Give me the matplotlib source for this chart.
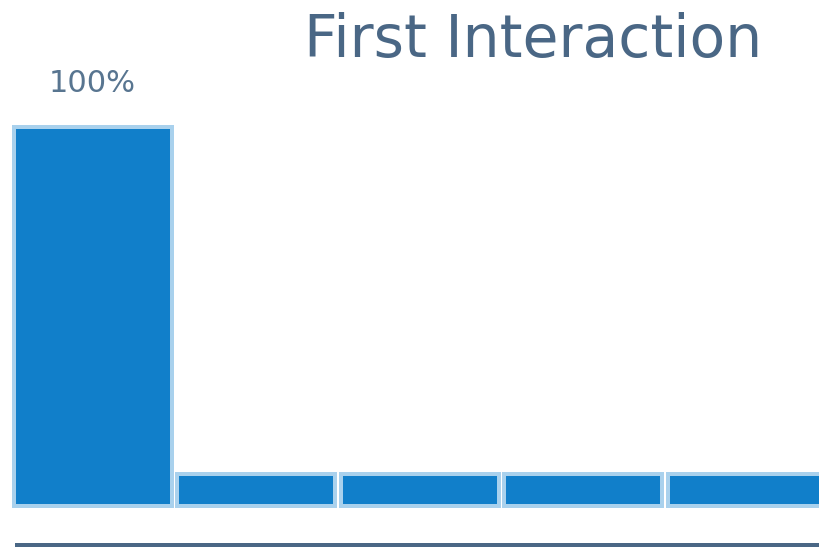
import matplotlib.pyplot as plt

categories = ["A", "B", "C", "D", "E"]
values = [100, 8.5, 8.5, 8.5, 8.5]
labels = ["100%", "", "", "", ""]

W, H = 819, 548
fig = plt.figure(figsize=(W / 100, H / 100), dpi=100)
ax = fig.add_axes([0, 0, 1, 1])

px = 163.5  # pixels per category
pos = range(len(categories))
ax.bar(pos, values, width=(162 - 4) / px, color="#117fca",
       edgecolor="#a9d1ed", linewidth=4 * 0.72)

ax.set_xlim(-92.5 / px, (W - 92.5) / px)
ypx = 3.79  # pixels per percent
ax.set_ylim(-(H - 506) / ypx, 506 / ypx)

for i, (v, lab) in enumerate(zip(values, labels)):
    if lab:
        ax.text(i, v + 35 / ypx, lab, ha="center", va="baseline",
                fontsize=22, color="#587590")

# baseline rule under the chart
ax.axhline(-(545 - 506) / ypx, xmin=17 / W, xmax=1, color="#4a6785",
           linewidth=4 * 0.72)

ax.axis("off")
fig.text(533 / W, 1 - 57 / H, "First Interaction", ha="center", va="baseline",
         fontsize=42, color="#4a6785")

fig.savefig("out.png", dpi=100)
